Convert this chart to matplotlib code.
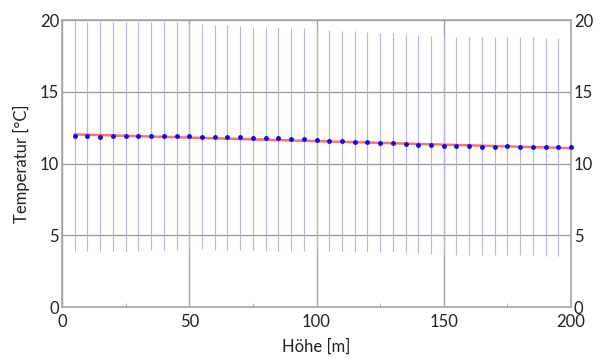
import numpy as np
import matplotlib
matplotlib.use("Agg")
import matplotlib.pyplot as plt
from matplotlib.ticker import MultipleLocator

plt.rcParams['font.family'] = ['Lato', 'DejaVu Sans']

# Höhe [m]
hoehe = np.arange(5, 201, 5)
# mittlere Temperatur je Höhe
temp = [11.92, 11.89, 11.87, 11.89, 11.92, 11.94, 11.94, 11.92, 11.92, 11.89,
        11.87, 11.85, 11.82, 11.82, 11.80, 11.78, 11.75, 11.71, 11.68, 11.66,
        11.59, 11.57, 11.52, 11.48, 11.43, 11.41, 11.36, 11.31, 11.29, 11.22,
        11.20, 11.22, 11.17, 11.17, 11.20, 11.15, 11.17, 11.17, 11.15, 11.17]
# obere / untere Grenze der Fehlerbalken
oben = [20.0, 19.88, 19.86, 19.84, 19.84, 19.84, 19.84, 19.84, 19.84, 19.78,
        19.70, 19.65, 19.63, 19.58, 19.54, 19.54, 19.49, 19.45, 19.42, 19.38,
        19.33, 19.26, 19.21, 19.16, 19.12, 19.07, 19.02, 18.95, 18.91, 18.87,
        18.84, 18.81, 18.81, 18.79, 18.79, 18.79, 18.79, 18.77, 18.77, 18.77]
unten = [3.90, 3.90, 3.92, 3.93, 3.93, 3.93, 3.95, 3.95, 3.97, 3.95,
         4.02, 3.97, 3.95, 3.95, 3.95, 3.90, 3.90, 3.90, 3.90, 3.95,
         3.90, 3.90, 3.86, 3.86, 3.81, 3.81, 3.79, 3.74, 3.67, 3.65,
         3.62, 3.62, 3.62, 3.62, 3.62, 3.62, 3.62, 3.58, 3.58, 3.57]
# lineare Regression
fit_x = [5, 200]
fit_y = [12.03, 11.07]

temp = np.array(temp)
yerr = [temp - np.array(unten), np.array(oben) - temp]

fig = plt.figure(figsize=(6.06, 3.59), dpi=100)
ax = fig.add_axes([0.1023, 0.1448, 0.840, 0.7994])

ax.grid(True, which='major', color='#a0a0a0', linewidth=1.0, zorder=0)
ax.errorbar(hoehe, temp, yerr=yerr, fmt='none', ecolor='#b4b4e6',
            elinewidth=0.8, capsize=0, zorder=2)
ax.plot(fit_x, fit_y, color='#ff7272', linewidth=1.8, zorder=3)
ax.plot(hoehe, temp, 'o', color='#0a0af0', markersize=2.5, zorder=4,
        clip_on=False)

ax.set_xlim(0, 200)
ax.set_ylim(0, 20)
ax.xaxis.set_major_locator(MultipleLocator(50))
ax.xaxis.set_minor_locator(MultipleLocator(25))
ax.yaxis.set_major_locator(MultipleLocator(5))

for s in ax.spines.values():
    s.set_color('#a6a6a6')
    s.set_linewidth(1.2)

ax.tick_params(which='both', direction='in', color='#a6a6a6', labelsize=12,
               labelcolor='#222222', right=True, labelright=True, pad=2)
ax.tick_params(axis='x', which='both', pad=5)
ax.tick_params(which='major', length=0)
ax.tick_params(which='minor', axis='x', length=3)

ax.set_xlabel('Höhe [m]', fontsize=12, color='#222222', labelpad=6)
ax.set_ylabel('Temperatur [°C]', fontsize=12, color='#222222', labelpad=7)

fig.savefig('out.png', dpi=100)
